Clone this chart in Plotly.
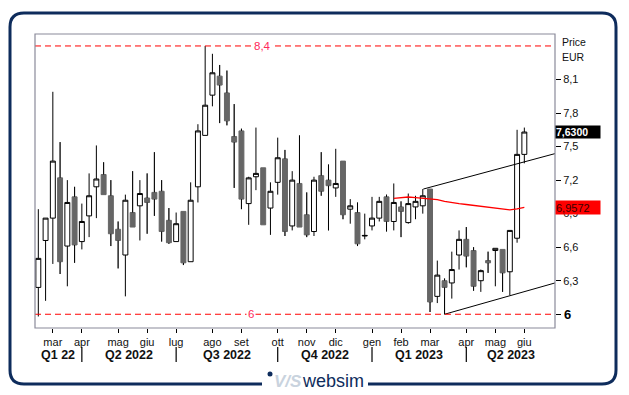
import plotly.graph_objects as go
import pandas as pd

# ---------------- data ----------------
first_week = "2022-02-18"          # weekly candles (dated Friday)
n_weeks = 68
dates = pd.date_range(first_week, periods=n_weeks, freq="7D")

opens = [6.24, 6.66, 6.86, 7.22, 6.61, 7.05, 6.65, 6.88, 7.14, 7.25,
         7.06, 6.76, 6.53, 6.91, 6.97, 7.04, 7.09, 7.10, 6.84, 6.65,
         6.92, 6.47, 7.14, 7.60, 7.96, 8.13, 7.98, 7.59, 7.64, 6.99,
         7.23, 7.31, 6.95, 7.18, 7.39, 6.79, 7.17, 6.89, 6.74, 7.24,
         7.20, 7.13, 7.37, 6.94, 6.91, 6.70, 6.79, 6.86, 7.05, 6.83,
         6.96, 6.82, 6.96, 6.97, 7.12, 6.16, 6.30, 6.28, 6.53, 6.67,
         6.57, 6.30, 6.48, 6.57, 6.58, 6.38, 6.68, 7.43]
highs = [6.94, 6.86, 7.99, 7.54, 7.20, 7.14, 6.99, 7.26, 7.51, 7.36,
         7.20, 6.83, 7.07, 7.28, 7.20, 7.26, 7.45, 7.20, 6.95, 6.91,
         6.92, 7.18, 7.70, 8.40, 8.33, 8.23, 8.18, 7.88, 7.66, 7.23,
         7.67, 7.31, 7.18, 7.58, 7.47, 7.28, 7.60, 7.09, 7.23, 7.45,
         7.34, 7.48, 7.37, 7.03, 7.00, 6.90, 7.05, 7.05, 7.07, 7.17,
         7.01, 7.08, 7.06, 7.12, 7.12, 6.48, 6.32, 6.56, 6.75, 6.78,
         6.60, 6.40, 6.56, 6.59, 6.58, 6.75, 7.65, 7.67]
lows = [5.98, 6.12, 6.45, 6.36, 6.25, 6.46, 6.58, 6.69, 6.86, 7.07,
        6.61, 6.41, 6.16, 6.78, 6.66, 6.72, 6.88, 6.65, 6.63, 6.65,
        6.44, 6.47, 7.00, 7.60, 7.86, 7.71, 7.69, 7.13, 6.94, 6.80,
        7.11, 6.80, 6.71, 7.07, 6.70, 6.75, 6.78, 6.69, 6.70, 7.06,
        6.75, 7.05, 6.85, 6.81, 6.61, 6.67, 6.75, 6.83, 6.74, 6.75,
        6.69, 6.81, 6.85, 6.90, 6.02, 6.10, 6.00, 6.14, 6.40, 6.42,
        6.21, 6.20, 6.37, 6.25, 6.20, 6.17, 6.64, 7.35]
closes = [6.50, 6.86, 7.37, 6.47, 7.00, 6.62, 6.83, 7.06, 7.21, 7.07,
          6.72, 6.66, 7.02, 6.78, 7.08, 7.00, 7.03, 6.74, 6.64, 6.81,
          6.46, 7.02, 7.64, 7.87, 8.16, 8.05, 7.73, 7.54, 7.03, 7.22,
          7.26, 6.80, 7.10, 7.40, 6.74, 7.20, 6.78, 6.71, 7.20, 7.10,
          7.15, 7.17, 6.89, 6.97, 6.63, 6.705, 6.86, 7.01, 6.83, 7.00,
          6.92, 6.99, 7.01, 7.06, 6.11, 6.35, 6.24, 6.40, 6.67, 6.52,
          6.25, 6.39, 6.46, 6.59, 6.37, 6.75, 7.43, 7.63]

# red average line, from week 50 to the last week
avg_start = 49
avg_values = [7.037, 7.046, 7.049, 7.043, 7.037, 7.030, 7.026, 7.010, 6.998,
              6.989, 6.982, 6.974, 6.967, 6.960, 6.952, 6.943, 6.933, 6.942,
              6.957]
avg_label = "6,9572"
last_label = "7,6300"

# support / resistance levels
levels = [6.0, 8.4]
level_labels = ["6", "8,4"]

# channel trend lines (start date, start price, end date, end price)
upper_line = ("2023-02-24 12:00", 7.12, "2023-07-01 14:00", 7.437)
lower_line = ("2023-03-17", 6.00, "2023-07-01 14:00", 6.28)

y_ticks = [6.3, 6.6, 6.9, 7.2, 7.5, 7.8, 8.1]
y_tick_text = ["6,3", "6,6", "6,9", "7,2", "7,5", "7,8", "8,1"]

month_ticks = ["2022-03-04", "2022-04-01", "2022-05-06", "2022-06-03",
               "2022-07-01", "2022-08-05", "2022-09-02", "2022-10-07",
               "2022-11-04", "2022-12-02", "2023-01-06", "2023-02-03",
               "2023-03-03", "2023-04-07", "2023-05-05", "2023-06-02"]
month_names = ["mar", "apr", "mag", "giu", "lug", "ago", "set", "ott",
               "nov", "dic", "gen", "feb", "mar", "apr", "mag", "giu"]
quarter_starts = ["2022-04-01", "2022-07-01", "2022-10-07", "2023-01-06",
                  "2023-04-07"]
quarter_names = ["Q1 22", "Q2 2022", "Q3 2022", "Q4 2022", "Q1 2023",
                 "Q2 2023"]

x_range = ["2022-02-14 19:00", "2023-07-01 14:00"]
y_range = [5.877, 8.507]

# ---------------- figure ----------------
W, H = 629, 395
L, R, T, B = 35, 74, 34, 67
PW, PH = W - L - R, H - T - B
FONT = "Arial, 'Liberation Sans', sans-serif"
NAVY = "#0e2c5c"


def px(x):
    return (x - L) / PW


def py(y):
    return (H - B - y) / PH


fig = go.Figure()

fig.add_trace(go.Candlestick(
    x=dates, open=opens, high=highs, low=lows, close=closes,
    increasing=dict(line=dict(color="black", width=1), fillcolor="white"),
    decreasing=dict(line=dict(color="#666666", width=1), fillcolor="#666666"),
    whiskerwidth=0, hoverinfo="skip", showlegend=False,
))

# black wicks for the falling candles
wx, wy = [], []
for d, o, h, l, c in zip(dates, opens, highs, lows, closes):
    if c < o:
        wx += [d, d, None, d, d, None]
        wy += [h, o, None, c, l, None]
fig.add_trace(go.Scatter(x=wx, y=wy, mode="lines",
                         line=dict(color="black", width=1),
                         hoverinfo="skip", showlegend=False))

fig.add_trace(go.Scatter(x=dates[avg_start:], y=avg_values, mode="lines",
                         line=dict(color="#ff0000", width=1.3),
                         hoverinfo="skip", showlegend=False))

for ln in (upper_line, lower_line):
    fig.add_trace(go.Scatter(x=[ln[0], ln[2]], y=[ln[1], ln[3]], mode="lines",
                             line=dict(color="black", width=1),
                             hoverinfo="skip", showlegend=False))

shapes = []
annotations = []

# level lines
for lv, lab, xl in zip(levels, level_labels, [251, 262]):
    shapes.append(dict(type="line", xref="paper", yref="y", x0=0, x1=1,
                       y0=lv, y1=lv, line=dict(color="#ff0000", width=1,
                                               dash="6px,4px"), layer="above"))
    annotations.append(dict(xref="paper", yref="y", x=px(xl), y=lv, text=lab,
                            showarrow=False, bgcolor="white",
                            yanchor="middle",
                            font=dict(family=FONT, size=11.5, color="#ff2a5a"),
                            borderpad=1))

# plot frame
shapes.append(dict(type="rect", xref="paper", yref="paper", x0=0, x1=1,
                   y0=0, y1=1, line=dict(color="#8a8a9a", width=1.2)))

# quarter separators
for q in quarter_starts:
    shapes.append(dict(type="line", xref="x", yref="paper", x0=q, x1=q,
                       y0=py(347), y1=py(362),
                       line=dict(color="black", width=1.2)))

# quarter labels centred between boundaries
bounds = [pd.Timestamp(x_range[0])] + [pd.Timestamp(q) for q in quarter_starts] \
    + [pd.Timestamp(x_range[1])]
for i, name in enumerate(quarter_names):
    mid = bounds[i] + (bounds[i + 1] - bounds[i]) / 2
    annotations.append(dict(xref="x", yref="paper", x=mid, y=py(354.5),
                            text="<b>%s</b>" % name, showarrow=False,
                            yanchor="middle",
                            font=dict(family=FONT, size=12.5, color="#111")))

# axis caption
annotations.append(dict(xref="paper", yref="paper", x=px(560), y=py(42),
                        text="Price", showarrow=False, xanchor="left",
                        yanchor="middle",
                        font=dict(family=FONT, size=10.5, color="#111")))
annotations.append(dict(xref="paper", yref="paper", x=px(560), y=py(57),
                        text="EUR", showarrow=False, xanchor="left",
                        yanchor="middle",
                        font=dict(family=FONT, size=10.5, color="#111")))

# last-value boxes
annotations.append(dict(xref="paper", yref="y", x=1.0, y=closes[-1],
                        text="<b>%s</b>" % last_label, showarrow=False,
                        xanchor="left", yanchor="middle", align="left",
                        width=44, height=12, borderpad=0, bgcolor="black",
                        font=dict(family=FONT, size=10.5, color="white")))
annotations.append(dict(xref="paper", yref="y", x=1.0, y=avg_values[-1],
                        text=avg_label, showarrow=False,
                        xanchor="left", yanchor="middle", align="left",
                        width=44, height=13, borderpad=0, bgcolor="#ff0000",
                        font=dict(family=FONT, size=11, color="#3a0000")))

# bold level 6 on the axis
annotations.append(dict(xref="paper", yref="y", x=px(562), y=6.0,
                        text="<b>6</b>", showarrow=False, xanchor="left",
                        yanchor="middle",
                        font=dict(family=FONT, size=13, color="black")))

# outer rounded frame, open at the bottom for the logo
xl_, xr_, yt_, yb_, r = 10, 616, 13, 384, 14
path = ("M {a},{b} L {c},{b} Q {d},{b} {d},{e} L {d},{f} Q {d},{g} {c},{g} "
        "L {h},{g} Q {i},{g} {i},{f} L {i},{e} Q {i},{b} {h},{b} L {j},{b}").format(
    a=px(262), b=py(yb_), c=px(xl_ + r), d=px(xl_), e=py(yb_ - r),
    f=py(yt_ + r), g=py(yt_), h=px(xr_ - r), i=px(xr_), j=px(368))
shapes.append(dict(type="path", xref="paper", yref="paper", path=path,
                   line=dict(color=NAVY, width=3)))

# logo
shapes.append(dict(type="circle", xref="paper", yref="paper",
                   x0=px(267.5), x1=px(272.5), y0=py(371.5), y1=py(376.5),
                   fillcolor=NAVY, line=dict(width=0)))
annotations.append(dict(xref="paper", yref="paper", x=px(272), y=py(381),
                        text="<b><i>V/S</i></b>", showarrow=False,
                        xanchor="left", yanchor="middle",
                        font=dict(family=FONT, size=17, color="#c9d3de")))
annotations.append(dict(xref="paper", yref="paper", x=px(300), y=py(381),
                        text="websim", showarrow=False, xanchor="left",
                        yanchor="middle",
                        font=dict(family=FONT, size=18, color=NAVY)))

fig.update_layout(
    width=W, height=H, margin=dict(l=L, r=R, t=T, b=B),
    paper_bgcolor="white", plot_bgcolor="white",
    showlegend=False, hovermode=False,
    boxgap=0.2, boxgroupgap=0.15,
    shapes=shapes, annotations=annotations,
    font=dict(family=FONT, size=11, color="#111"),
    xaxis=dict(type="date", range=x_range, rangeslider=dict(visible=False),
               tickmode="array", tickvals=month_ticks, ticktext=month_names,
               ticks="outside", ticklen=4, tickcolor="black", tickwidth=1,
               showgrid=False, zeroline=False, showline=False,
               tickfont=dict(family=FONT, size=11, color="#111")),
    yaxis=dict(range=y_range, side="right", tickmode="array",
               tickvals=y_ticks + [6.0], ticktext=y_tick_text + [""],
               ticks="outside", ticklen=5, tickcolor="black", tickwidth=1,
               showgrid=False, zeroline=False, showline=False,
               tickfont=dict(family=FONT, size=11, color="#111")),
)

fig.write_html("out.html", config={"displayModeBar": False},
               post_script="document.body.style.margin='0';"
                           "document.body.style.overflow='hidden';")
